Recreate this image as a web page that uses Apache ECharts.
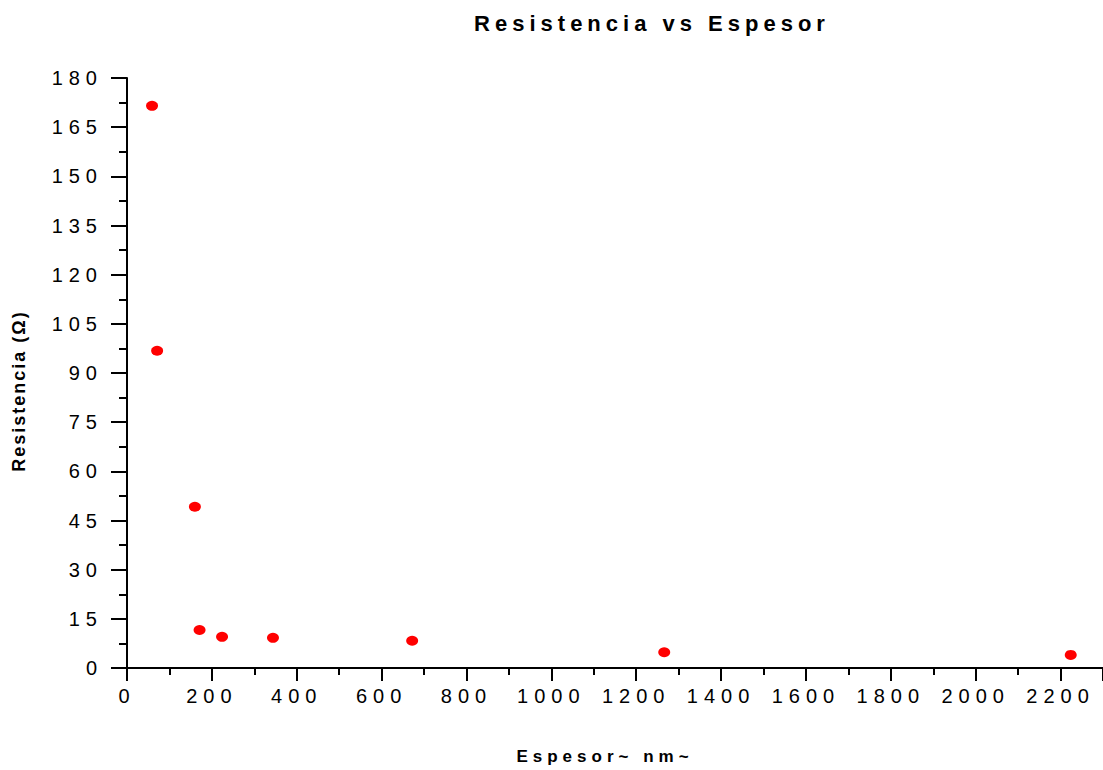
<!DOCTYPE html>
<html>
<head>
<meta charset="utf-8">
<script src="https://cdn.jsdelivr.net/npm/echarts@6/dist/echarts.min.js"></script>
<style>
  html, body { margin: 0; padding: 0; background: #fff; }
  #chart { width: 1103px; height: 770px; }
  /* the original has widely spaced lettering */
  #chart svg text { letter-spacing: 6px; }
</style>
</head>
<body>
<div id="chart"></div>
<script>
const titleText = "Resistencia vs Espesor";
const xName = "Espesor~ nm~";
const yName = "Resistencia (Ω)";

// espesor (nm) vs resistencia (ohm)
const espesor = [59, 71, 160, 171, 224, 344, 672, 1266, 2224];
const resistencia = [171.5, 96.8, 49.2, 11.6, 9.5, 9.2, 8.3, 4.8, 4.0];

const xMin = 0, xMax = 2300, xStep = 200;
const yMin = 0, yMax = 180, yStep = 15;

const points = espesor.map((x, i) => [x, resistencia[i]]);

const chart = echarts.init(document.getElementById("chart"), null, { renderer: "svg" });

chart.on("finished", () => {
  document.querySelectorAll("#chart svg text").forEach((t) => {
    const s = t.textContent;
    if (s === yName) t.style.letterSpacing = "2px";
    else if (s === xName) t.style.letterSpacing = "5px";
    else if (s === titleText) t.style.letterSpacing = "5px";
  });
});

const font = "Liberation Sans, Arial, sans-serif";

chart.setOption({
  animation: false,
  backgroundColor: "#fff",
  textStyle: { fontFamily: font, color: "#000" },
  title: {
    text: titleText,
    left: 647,
    top: 7,
    textAlign: "center",
    textStyle: { fontSize: 22, fontWeight: "bold", color: "#000", fontFamily: font },
  },
  grid: { left: 127, top: 78, width: 977, height: 592 },
  xAxis: {
    type: "value",
    min: xMin,
    max: xMax,
    interval: xStep,
    name: xName,
    nameLocation: "middle",
    nameGap: 80,
    nameTextStyle: { fontSize: 17, fontWeight: "bold", color: "#000", padding: [0, 20, 0, 0] },
    axisLine: { show: true, lineStyle: { color: "#000", width: 2 } },
    axisTick: { show: true, length: 13, lineStyle: { color: "#000", width: 2 } },
    minorTick: { show: true, splitNumber: 2, length: 7, lineStyle: { color: "#000", width: 2 } },
    splitLine: { show: false },
    axisLabel: {
      fontSize: 20,
      color: "#000",
      margin: 18,
      showMaxLabel: false,
      formatter: (v) => String(v),
    },
  },
  yAxis: {
    type: "value",
    min: yMin,
    max: yMax,
    interval: yStep,
    name: yName,
    nameLocation: "middle",
    nameGap: 99,
    nameTextStyle: { fontSize: 18, fontWeight: "bold", color: "#000", padding: [0, 36, 0, 0] },
    axisLine: { show: true, lineStyle: { color: "#000", width: 2 } },
    axisTick: { show: true, length: 16, lineStyle: { color: "#000", width: 2 } },
    minorTick: { show: true, splitNumber: 2, length: 8, lineStyle: { color: "#000", width: 2 } },
    splitLine: { show: false },
    axisLabel: { fontSize: 20, color: "#000", margin: 24, formatter: (v) => String(v) },
  },
  series: [
    {
      type: "scatter",
      data: points,
      symbol: "circle",
      symbolSize: [12, 10],
      itemStyle: { color: "#ff0000", opacity: 1 },
    },
  ],
});
</script>
</body>
</html>
